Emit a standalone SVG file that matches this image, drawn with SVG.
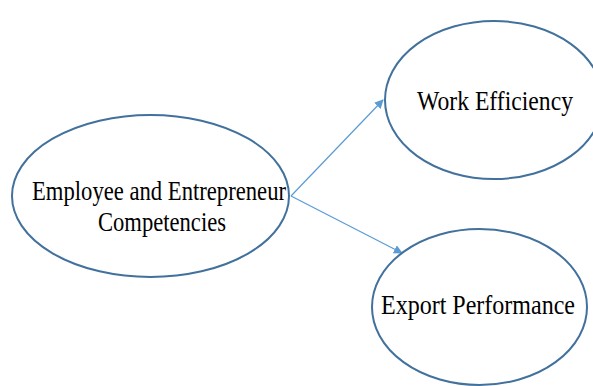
<svg xmlns="http://www.w3.org/2000/svg" width="593" height="386" viewBox="0 0 593 386">
  <style>
    .node { fill: #ffffff; stroke: #41719c; stroke-width: 2; }
    .label { font-family: "Liberation Serif", "Times New Roman", serif; font-size: 27px; fill: #000000; }
    .edge { stroke: #5b9bd5; stroke-width: 1.2; fill: none; marker-end: url(#arrow); }
  </style>
  <defs>
    <marker id="arrow" viewBox="0 0 10 10" refX="9" refY="5" markerWidth="9" markerHeight="9" markerUnits="userSpaceOnUse" orient="auto">
      <path d="M0,0 L10,5 L0,10 z" fill="#5b9bd5"/>
    </marker>
  </defs>
  <rect width="593" height="386" fill="#ffffff"/>

  <g id="edges">
    <line class="edge" x1="291" y1="196" x2="383" y2="100"/>
    <line class="edge" x1="291" y1="196" x2="402" y2="253"/>
  </g>

  <g id="node-competencies">
    <ellipse class="node" cx="150.5" cy="196" rx="138.5" ry="81"/>
    <text class="label" x="32" y="200" textLength="254" lengthAdjust="spacingAndGlyphs">Employee and Entrepreneur</text>
    <text class="label" x="98" y="231" textLength="128" lengthAdjust="spacingAndGlyphs">Competencies</text>
  </g>

  <g id="node-efficiency">
    <ellipse class="node" cx="494" cy="100" rx="109" ry="79"/>
    <text class="label" x="417" y="110" textLength="156" lengthAdjust="spacingAndGlyphs">Work Efficiency</text>
  </g>

  <g id="node-export">
    <ellipse class="node" cx="479.5" cy="307" rx="107.5" ry="78"/>
    <text class="label" x="381" y="314" textLength="194" lengthAdjust="spacingAndGlyphs">Export Performance</text>
  </g>
</svg>
